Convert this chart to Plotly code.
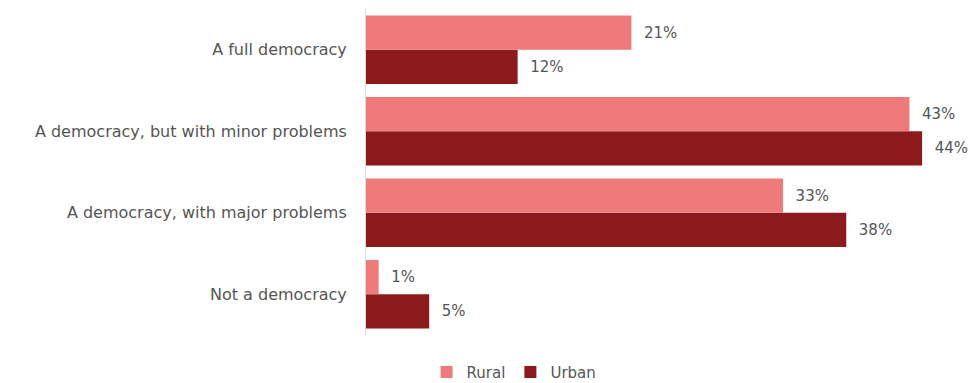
import plotly.graph_objects as go

categories = [
    "A full democracy",
    "A democracy, but with minor problems",
    "A democracy, with major problems",
    "Not a democracy",
]
rural = [21, 43, 33, 1]
urban = [12, 44, 38, 5]

RURAL_COLOR = "#EF7A7A"
URBAN_COLOR = "#8C1A1C"
TEXT_COLOR = "#555555"
FONT = "'DejaVu Sans', sans-serif"

fig = go.Figure()
# Horizontal bars draw bottom-up, so add Urban first to place Rural on top in each group
fig.add_trace(go.Bar(
    y=categories, x=urban, name="Urban", orientation="h",
    marker=dict(color=URBAN_COLOR, line=dict(width=0)),
    text=[f"{v}%" for v in urban], texttemplate="  %{text}",
    textposition="outside", textfont=dict(color=TEXT_COLOR, size=15, family=FONT),
    cliponaxis=False,
))
fig.add_trace(go.Bar(
    y=categories, x=rural, name="Rural", orientation="h",
    marker=dict(color=RURAL_COLOR, line=dict(width=0)),
    text=[f"{v}%" for v in rural], texttemplate="  %{text}",
    textposition="outside", textfont=dict(color=TEXT_COLOR, size=15, family=FONT),
    cliponaxis=False,
))

fig.update_layout(
    width=970, height=383,
    margin=dict(l=366, r=10, t=9, b=48),
    paper_bgcolor="white", plot_bgcolor="white",
    barmode="group", bargap=0.16, bargroupgap=0,
    font=dict(family=FONT, color=TEXT_COLOR, size=15),
    legend=dict(
        orientation="h", traceorder="reversed",
        xref="container", yref="container",
        x=0.53, y=0.028, xanchor="center", yanchor="middle",
        font=dict(size=15, color=TEXT_COLOR), itemwidth=30,
        tracegroupgap=0,
    ),
)
fig.update_xaxes(range=[0, 47], visible=False, showgrid=False, zeroline=False)
fig.update_yaxes(
    categoryorder="array", categoryarray=categories[::-1],
    showline=True, linecolor="#D9D9D9", linewidth=1,
    showgrid=False, ticks="", ticklabelstandoff=15,
    tickfont=dict(size=16, color=TEXT_COLOR, family=FONT),
)

fig.write_html("out.html")
